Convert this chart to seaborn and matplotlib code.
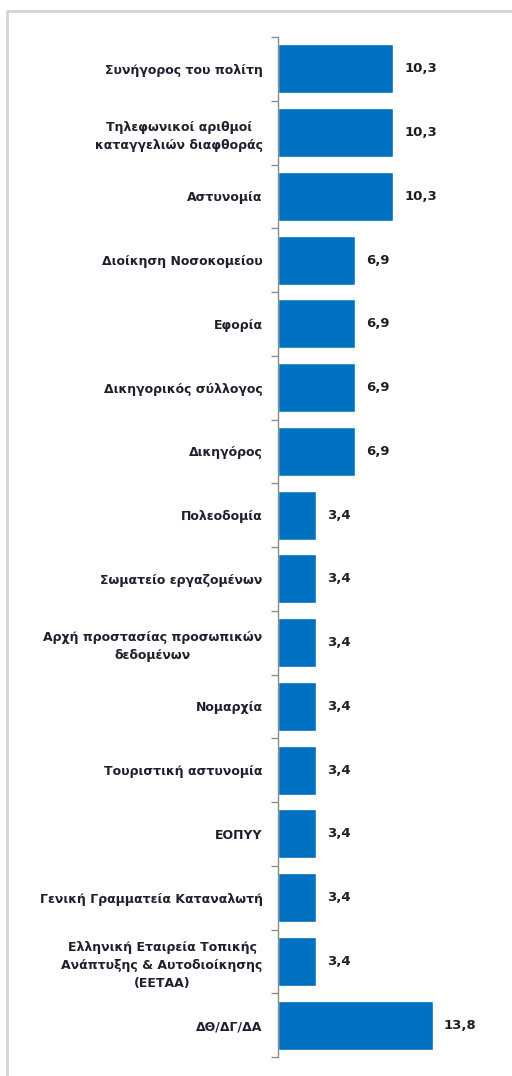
import numpy as np
import pandas as pd
import seaborn as sns
import matplotlib.pyplot as plt
from matplotlib.lines import Line2D


categories = [
    "Συνήγορος του πολίτη",
    "Τηλεφωνικοί αριθμοί\nκαταγγελιών διαφθοράς",
    "Αστυνομία",
    "Διοίκηση Νοσοκομείου",
    "Εφορία",
    "Δικηγορικός σύλλογος",
    "Δικηγόρος",
    "Πολεοδομία",
    "Σωματείο εργαζομένων",
    "Αρχή προστασίας προσωπικών\nδεδομένων",
    "Νομαρχία",
    "Τουριστική αστυνομία",
    "ΕΟΠΥΥ",
    "Γενική Γραμματεία Καταναλωτή",
    "Ελληνική Εταιρεία Τοπικής\nΑνάπτυξης & Αυτοδιοίκησης\n(ΕΕΤΑΑ)",
    "ΔΘ/ΔΓ/ΔΑ",
]
values = [10.3, 10.3, 10.3, 6.9, 6.9, 6.9, 6.9, 3.4, 3.4, 3.4, 3.4, 3.4, 3.4, 3.4, 3.4, 13.8]

df = pd.DataFrame({"Φορέας": categories, "Ποσοστό": values})

sns.set_theme(style="white")
plt.rcParams["font.family"] = ["DejaVu Sans"]

W, H = 512, 1076
fig = plt.figure(figsize=(W / 100, H / 100), dpi=100)
ax = fig.add_axes([278 / W, 1 - 1057 / H, 224 / W, (1057 - 37) / H])

sns.barplot(data=df, x="Ποσοστό", y="Φορέας", orient="h", color="#0070C0",
            saturation=1, width=0.77, ax=ax)

ax.set_xlim(0, 20)
ax.set_ylim(len(categories) - 0.5, -0.5)
ax.set_xlabel("")
ax.set_ylabel("")
ax.set_xticks([])

for s in ["top", "right", "bottom"]:
    ax.spines[s].set_visible(False)
ax.spines["left"].set_color("#8c8c8c")
ax.spines["left"].set_linewidth(1.0)

ax.tick_params(axis="y", which="major", left=False, length=0, pad=11)
ax.set_yticks(np.arange(len(categories) + 1) - 0.5, minor=True)
ax.tick_params(axis="y", which="minor", left=True, direction="out",
               length=5, color="#8c8c8c", width=1)
for lbl in ax.get_yticklabels():
    lbl.set_fontsize(9)
    lbl.set_fontweight("bold")
    lbl.set_color("#1f1f2e")
    lbl.set_horizontalalignment("right")
    lbl.set_multialignment("center")
    lbl.set_linespacing(1.5)

ax.bar_label(ax.containers[0], labels=[f"{v:.1f}".replace(".", ",") for v in values],
             padding=8, fontsize=9.5, fontweight="bold", color="#1f1f1f")

# chart frame (top and left edges visible)
fig.add_artist(Line2D([7 / W, 7 / W, 1.1], [-0.1, 1 - 11 / H, 1 - 11 / H],
                      transform=fig.transFigure, color="#d4d4d4", lw=2))

fig.savefig("out.png", dpi=100)
